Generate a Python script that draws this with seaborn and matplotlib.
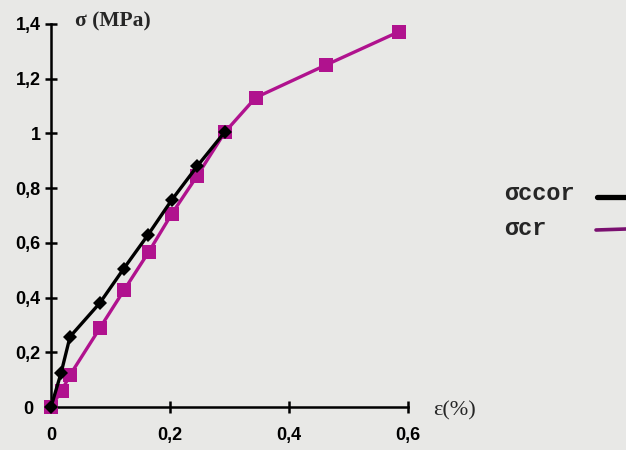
import matplotlib
matplotlib.use("Agg")
import matplotlib.pyplot as plt
import matplotlib.transforms as mtransforms
import seaborn as sns
import pandas as pd

# Strain (%) and stress (MPa) readings for the two curves
eps_ccor = [0.0, 0.017, 0.032, 0.082, 0.122, 0.163, 0.203, 0.246, 0.292]
sig_ccor = [0.0, 0.125, 0.257, 0.380, 0.505, 0.629, 0.757, 0.881, 1.005]

eps_cr = [0.0, 0.018, 0.032, 0.082, 0.123, 0.164, 0.203, 0.246, 0.292, 0.344, 0.463, 0.585]
sig_cr = [0.0, 0.060, 0.117, 0.288, 0.428, 0.566, 0.706, 0.846, 1.004, 1.131, 1.251, 1.372]

x_ticks = [0, 0.2, 0.4, 0.6]
x_labels = ["0", "0,2", "0,4", "0,6"]
y_ticks = [0, 0.2, 0.4, 0.6, 0.8, 1.0, 1.2, 1.4]
y_labels = ["0", "0,2", "0,4", "0,6", "0,8", "1", "1,2", "1,4"]

series_names = ["σccor", "σcr"]

df_ccor = pd.DataFrame({"eps": eps_ccor, "sig": sig_ccor})
df_cr = pd.DataFrame({"eps": eps_cr, "sig": sig_cr})

sns.set_style("white")
plt.rcParams["font.family"] = ["Liberation Sans", "DejaVu Sans"]

bg = "#e8e8e6"
pink = "#b0128e"

fig = plt.figure(figsize=(6.26, 4.5), dpi=100, facecolor=bg)
ax = fig.add_axes([51 / 626, 43 / 450, 357 / 626, 383 / 450])
ax.set_facecolor(bg)

sns.lineplot(data=df_cr, x="eps", y="sig", ax=ax, color=pink, lw=2.4,
             marker="s", markersize=9.5, markeredgewidth=0, clip_on=False,
             zorder=3, legend=False)
sns.lineplot(data=df_ccor, x="eps", y="sig", ax=ax, color="black", lw=2.4,
             marker="D", markersize=7.5, markeredgewidth=0, clip_on=False,
             zorder=4, legend=False)

ax.set_xlim(0, 0.6)
ax.set_ylim(0, 1.4)
ax.set_xticks(x_ticks)
ax.set_xticklabels(x_labels, fontweight="bold", fontsize=13)
ax.set_yticks(y_ticks)
ax.set_yticklabels(y_labels, fontweight="bold", fontsize=13)
ax.tick_params(axis="both", direction="inout", length=9, width=1.8, color="black",
               bottom=True, left=True, labelcolor="black")
ax.tick_params(axis="x", pad=10)
ax.tick_params(axis="y", pad=3)

# The zero label on the y axis sits a little further left, clear of the markers
zero_lbl = ax.get_yticklabels()[0]
zero_lbl.set_transform(zero_lbl.get_transform() +
                       mtransforms.ScaledTranslation(-7 / 100, 0, fig.dpi_scale_trans))

sns.despine(ax=ax)
for side in ("left", "bottom"):
    ax.spines[side].set_linewidth(1.8)
    ax.spines[side].set_color("black")
ax.set_xlabel("")
ax.set_ylabel("")

# Axis titles placed at the axis ends
ax.text(0.041, 1.41, "σ (MPa)", fontsize=15.5, fontweight="bold",
        family=["Liberation Serif", "DejaVu Serif"], va="center", ha="left")
ax.text(0.643, -0.015, "ε(%)", fontsize=16,
        family=["Liberation Serif", "DejaVu Serif"], va="center", ha="left")

# Legend entries on the right
fig.text(504 / 626, 1 - 194 / 450, series_names[0], fontsize=17, fontweight="bold",
         family=["Liberation Mono", "DejaVu Sans Mono"], va="center", ha="left")
fig.text(504 / 626, 1 - 228 / 450, series_names[1], fontsize=17, fontweight="bold",
         family=["Liberation Mono", "DejaVu Sans Mono"], va="center", ha="left")
fig.add_artist(plt.Line2D([597 / 626, 1.0], [1 - 197 / 450, 1 - 197 / 450],
                          color="black", lw=3.8, transform=fig.transFigure))
fig.add_artist(plt.Line2D([596 / 626, 1.0], [1 - 230 / 450, 1 - 229 / 450],
                          color="#7a1070", lw=2.6, transform=fig.transFigure))

fig.savefig("out.png", dpi=100, facecolor=bg)
